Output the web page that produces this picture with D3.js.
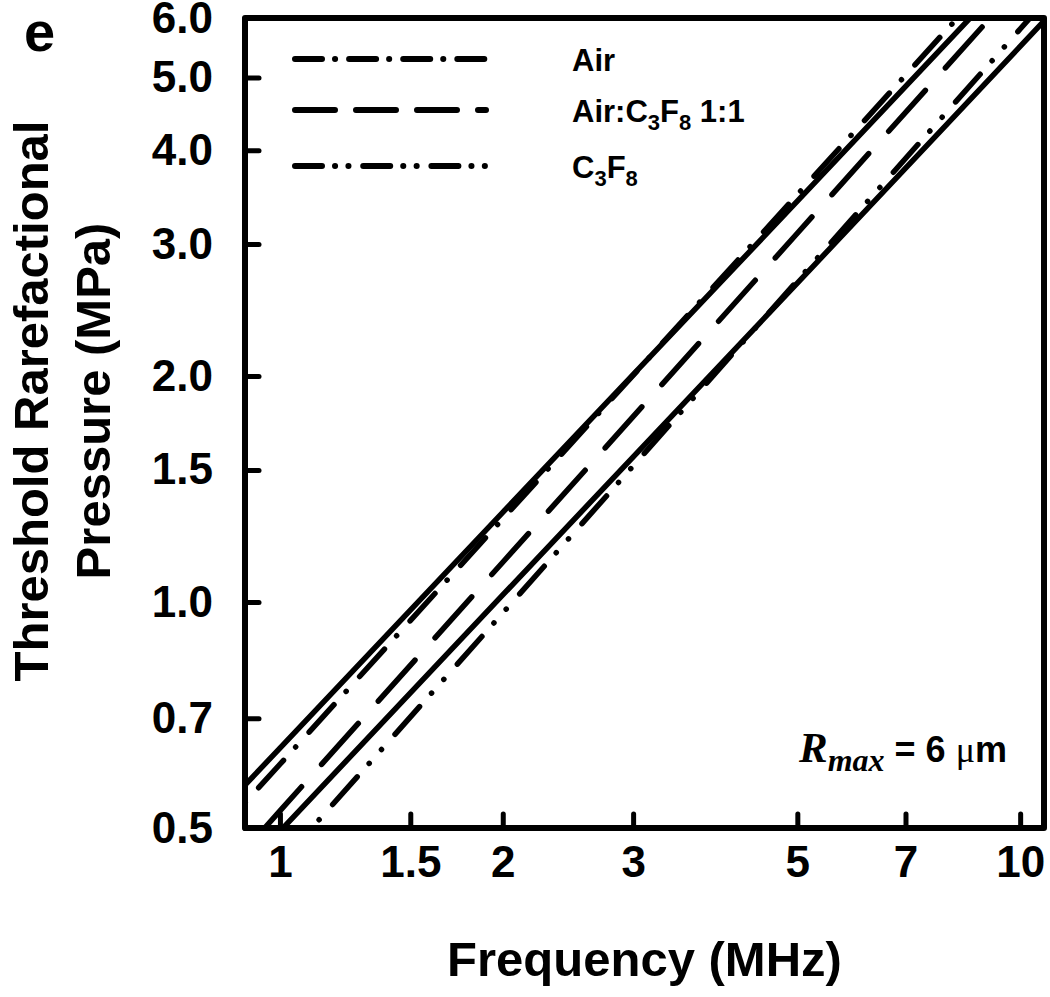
<!DOCTYPE html>
<html>
<head>
<meta charset="utf-8">
<script src="https://cdn.jsdelivr.net/npm/d3@7"></script>
<style>
  body { margin: 0; background: #fff; }
  text { font-family: "Liberation Sans", Arial, sans-serif; font-weight: bold; fill: #000; }
</style>
</head>
<body>
<div id="chart"></div>
<script>
/*
  Threshold rarefactional pressure vs frequency, log-log, D3
*/

var freqs = [0.8, 1, 2, 5, 10, 12];

// threshold pressures (MPa) at those frequencies
var upperSolid = [0.506, 0.639, 1.317, 3.42, 7.06, 8.53];
var lowerSolid = [0.392, 0.495, 1.022, 2.66, 5.50, 6.66];
var airVals    = [0.477, 0.608, 1.291, 3.49, 7.42, 9.05];
var mixVals    = [0.412, 0.527, 1.130, 3.10, 6.65, 8.13];
var c3f8Vals   = [0.349, 0.448, 0.967, 2.68, 5.80, 7.10];

var xTicks = [1, 1.5, 2, 3, 5, 7, 10];
var yTicks = [0.5, 0.7, 1.0, 1.5, 2.0, 3.0, 4.0, 5.0, 6.0];

var legendNames = ["Air", "Air:C3F8 1:1", "C3F8"];

// line styles
var plotDash = {
  solid: null,
  air: "37,18,0.1,20",
  mix: "55,30",
  c3f8: "37,18,0.1,18.4,0.1,20.3"
};
var legendDash = ["27,13,0.1,14", "40,21", "27,13,0.1,13.3,0.1,14.7"];

var margin = {top: 18, right: 6, bottom: 169, left: 245};
var width = 1050 - margin.left - margin.right;
var height = 997 - margin.top - margin.bottom;

var xScale = d3.scaleLog().domain([0.897, 10.77]).range([0, width]);
var yScale = d3.scaleLog().domain([0.5, 6.0]).range([height, 0]);

var svg = d3.select("#chart").append("svg")
    .attr("width", 1050)
    .attr("height", 997);

var g = svg.append("g")
    .attr("transform", "translate(" + margin.left + "," + margin.top + ")");

g.append("clipPath").attr("id", "plotclip")
  .append("rect")
    .attr("x", 0).attr("y", 0)
    .attr("width", width).attr("height", height);

// build series from the arrays
function toPoints(vals) {
  return freqs.map(function (f, i) { return {f: f, p: vals[i]}; });
}
var series = [
  {key: "solid", pts: toPoints(upperSolid)},
  {key: "solid", pts: toPoints(lowerSolid)},
  {key: "air",   pts: toPoints(airVals)},
  {key: "mix",   pts: toPoints(mixVals)},
  {key: "c3f8",  pts: toPoints(c3f8Vals)}
];

var line = d3.line()
    .x(function (d) { return xScale(d.f); })
    .y(function (d) { return yScale(d.p); });

g.append("g").attr("clip-path", "url(#plotclip)")
  .selectAll("path")
    .data(series)
    .enter()
  .append("path")
    .attr("d", function (d) { return line(d.pts); })
    .attr("fill", "none")
    .attr("stroke", "#000")
    .attr("stroke-width", 5.5)
    .attr("stroke-linecap", "round")
    .attr("stroke-dasharray", function (d) { return plotDash[d.key]; });

// axes
var xAxis = d3.axisBottom(xScale)
    .tickValues(xTicks)
    .tickFormat(function (d) { return String(d); })
    .tickSizeInner(-14).tickSizeOuter(0).tickPadding(18);

var yAxis = d3.axisLeft(yScale)
    .tickValues(yTicks)
    .tickFormat(d3.format(".1f"))
    .tickSizeInner(-14).tickSizeOuter(0).tickPadding(32);

var gx = g.append("g")
    .attr("transform", "translate(0," + height + ")")
    .call(xAxis);
var gy = g.append("g").call(yAxis);

[gx, gy].forEach(function (ax) {
  ax.select(".domain").remove();
  ax.selectAll(".tick line")
    .attr("stroke", "#000")
    .attr("stroke-width", 5)
    .attr("stroke-linecap", "round");
  ax.selectAll(".tick text")
    .attr("fill", "#000")
    .style("font-size", "44px")
    .style("font-family", "'Liberation Sans', Arial, sans-serif")
    .style("font-weight", "bold");
});

// frame
g.append("rect")
    .attr("x", 0).attr("y", 0)
    .attr("width", width).attr("height", height)
    .attr("fill", "none")
    .attr("stroke", "#000")
    .attr("stroke-width", 6)
    .attr("stroke-linejoin", "round");

// legend
var legendY = [59, 110, 166];
var legend = svg.append("g");
legendNames.forEach(function (name, i) {
  legend.append("line")
    .attr("x1", 295).attr("x2", 486)
    .attr("y1", legendY[i]).attr("y2", legendY[i])
    .attr("stroke", "#000")
    .attr("stroke-width", 6)
    .attr("stroke-linecap", "round")
    .attr("stroke-dasharray", legendDash[i]);

  var t = legend.append("text")
    .attr("x", 572)
    .attr("y", legendY[i] + 12)
    .style("font-size", "31px");
  // digits right after C or F are subscripts
  var parts = name.split(/(?<=[CF])(\d)/);
  var shift = 0;
  parts.forEach(function (s, k) {
    if (!s.length) return;
    var sub = (k % 2 === 1);
    var target = sub ? 8 : 0;
    t.append("tspan")
      .attr("dy", target - shift)
      .style("font-size", sub ? "22px" : null)
      .text(s);
    shift = target;
  });
});

// R_max annotation
var ann = svg.append("text")
    .attr("x", 799)
    .attr("y", 762)
    .style("font-size", "36px");
ann.append("tspan")
    .style("font-family", "'Liberation Serif', 'Times New Roman', serif")
    .style("font-style", "italic")
    .style("font-size", "43px")
    .text("R");
ann.append("tspan")
    .attr("dy", 9)
    .style("font-family", "'Liberation Serif', 'Times New Roman', serif")
    .style("font-style", "italic")
    .style("font-size", "32px")
    .text("max");
ann.append("tspan").attr("dy", -9).text(" = 6 ");
ann.append("tspan")
    .style("font-family", "'Liberation Serif', 'Times New Roman', serif")
    .style("font-weight", "normal")
    .text("\u03bc");
ann.append("tspan").text("m");

// panel letter
svg.append("text")
    .attr("x", 24).attr("y", 51)
    .style("font-size", "56px")
    .text("e");

// axis titles
svg.append("text")
    .attr("x", margin.left + width / 2)
    .attr("y", 976)
    .attr("text-anchor", "middle")
    .style("font-size", "49px")
    .text("Frequency (MHz)");

svg.append("text")
    .attr("transform", "translate(48,401) rotate(-90)")
    .attr("text-anchor", "middle")
    .style("font-size", "49px")
    .text("Threshold Rarefactional");

svg.append("text")
    .attr("transform", "translate(110,401) rotate(-90)")
    .attr("text-anchor", "middle")
    .style("font-size", "49px")
    .text("Pressure (MPa)");
</script>
</body>
</html>
